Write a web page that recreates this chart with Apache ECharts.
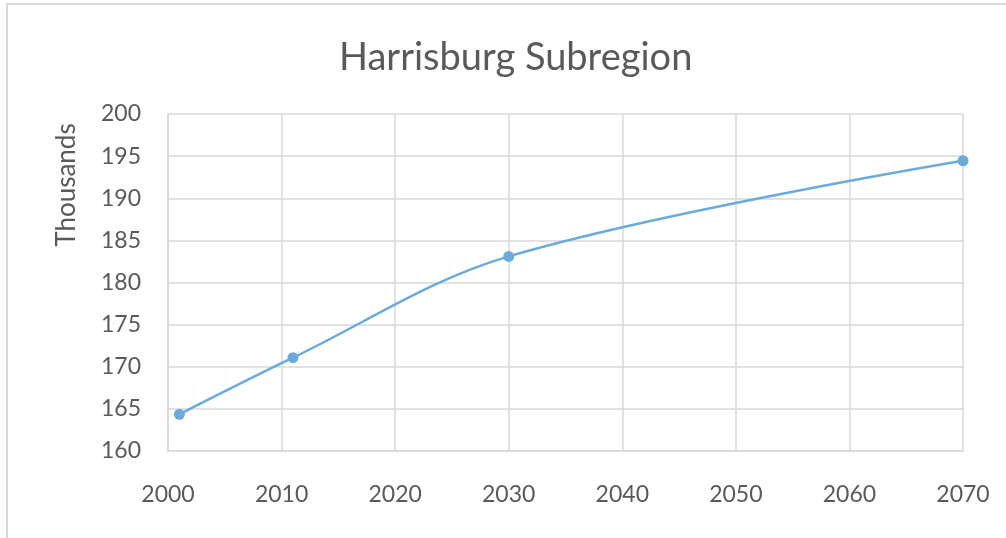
<!DOCTYPE html>
<html><head><meta charset="utf-8">
<script src="https://cdn.jsdelivr.net/npm/echarts@6/dist/echarts.min.js"></script>
<style>html,body{margin:0;padding:0;background:#fff}#c{width:1006px;height:538px}</style>
</head><body><div id="c"></div>
<script>
const title = "Harrisburg Subregion";
const yAxisTitle = "Thousands";
const years = [2001, 2011, 2030, 2070];
const values = [164.35, 171.07, 183.1, 194.45];
const yMin = 160, yMax = 200, yStep = 5;
const xMin = 2000, xMax = 2070, xStep = 10;

const font = "Lato";
const chart = echarts.init(document.getElementById('c'));
chart.setOption({
  animation: false,
  backgroundColor: '#fff',
  title: {text: title, left: 334, top: 34,
    textStyle: {fontFamily: font, fontSize: 38, fontWeight: 'normal', color: '#595959'}},
  grid: {left: 168, right: 43, top: 114, bottom: 87},
  graphic: [
    {type: 'rect', shape: {x: 7, y: 4, width: 1020, height: 560}, style: {fill: 'none', stroke: '#d9d9d9', lineWidth: 2}, silent: true},
    {type: 'text', x: 54, y: 185, rotation: Math.PI / 2,
      style: {text: yAxisTitle, fontFamily: font, fontSize: 26, fill: '#595959', align: 'center', verticalAlign: 'top'}}
  ],
  xAxis: {type: 'value', min: xMin, max: xMax, interval: xStep,
    axisLine: {show: true, lineStyle: {color: '#d9d9d9', width: 1.5}},
    axisTick: {show: false},
    splitLine: {show: true, lineStyle: {color: '#d9d9d9', width: 1.5}},
    axisLabel: {fontFamily: font, fontSize: 23, color: '#595959', margin: 32, formatter: v => String(v)}},
  yAxis: {type: 'value', min: yMin, max: yMax, interval: yStep,
    axisLine: {show: true, lineStyle: {color: '#d9d9d9', width: 1.5}},
    axisTick: {show: false},
    splitLine: {show: true, lineStyle: {color: '#d9d9d9', width: 1.5}},
    axisLabel: {fontFamily: font, fontSize: 23, color: '#595959', margin: 27}},
  series: [{type: 'line', data: years.map((y, i) => [y, values[i]]), smooth: 0.35,
    symbol: 'circle', symbolSize: 11,
    lineStyle: {color: '#6aabdc', width: 2.5},
    itemStyle: {color: '#6aabdc'}}]
});
</script></body></html>
